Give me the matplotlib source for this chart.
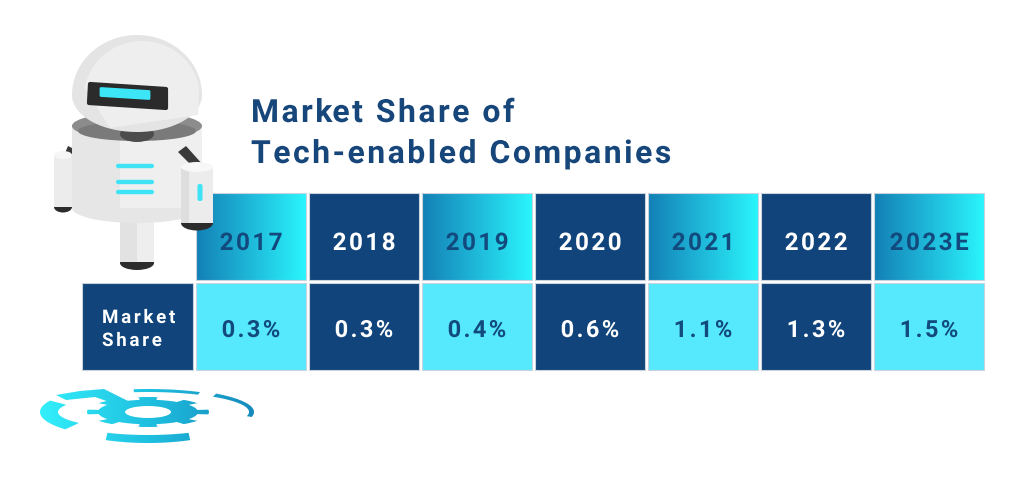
import numpy as np
import matplotlib
matplotlib.use("Agg")
import matplotlib.pyplot as plt
from matplotlib.patches import Rectangle, Ellipse, Polygon, PathPatch, FancyBboxPatch
from matplotlib.path import Path
from matplotlib.colors import LinearSegmentedColormap
from matplotlib.patheffects import AbstractPathEffect
from matplotlib.transforms import IdentityTransform

# ---------------- data ----------------
years = ['2017', '2018', '2019', '2020', '2021', '2022', '2023E']
share = [0.3, 0.3, 0.4, 0.6, 1.1, 1.3, 1.5]
row_label = 'Market\nShare'
title_lines = ['Market Share of', 'Tech-enabled Companies']

# ---------------- style ----------------
NAVY = '#10447a'
TITLE_C = '#16467a'
CYAN = '#56e9fd'
HDR_TXT = '#124a7d'
EDGE = '#c9d3de'
FONT = 'Roboto'


class LetterSpacing(AbstractPathEffect):
    """Adds tracking between glyphs of a single text object (text stays one string)."""

    def __init__(self, spacing, align='left', space_gap=6.0):
        super().__init__()
        self.sp = spacing
        self.align = align
        self.space_gap = space_gap

    def draw_path(self, renderer, gc, tpath, affine, rgbFace=None):
        verts = affine.transform(tpath.vertices)
        codes = tpath.codes
        if codes is None or len(verts) == 0:
            renderer.draw_path(gc, Path(verts, codes), IdentityTransform(), rgbFace)
            return
        starts = list(np.where(codes == Path.MOVETO)[0])
        if not starts or starts[0] != 0:
            starts = [0] + starts
        bounds = starts + [len(codes)]
        ext = []
        for i in range(len(starts)):
            s, e = bounds[i], bounds[i + 1]
            ext.append((verts[s:e, 0].min(), verts[s:e, 0].max(), s, e))
        order = sorted(range(len(ext)), key=lambda k: ext[k][0])
        offs = {}
        off = -self.sp
        cur_max = -np.inf
        for k in order:
            xmin, xmax = ext[k][0], ext[k][1]
            if xmin > cur_max - 0.3:
                off += self.sp
                if np.isfinite(cur_max) and xmin - cur_max > self.space_gap:
                    off += self.sp  # a word space gets tracking too
                cur_max = xmax
            else:
                cur_max = max(cur_max, xmax)
            offs[k] = off
        shift = -off / 2 if self.align == 'center' else 0.0
        newv = verts.copy()
        for k, (xmin, xmax, s, e) in enumerate(ext):
            newv[s:e, 0] += offs[k] + shift
        renderer.draw_path(gc, Path(newv, codes), IdentityTransform(), rgbFace)


fig = plt.figure(figsize=(10.24, 4.8), dpi=100)
ax = fig.add_axes([0, 0, 1, 1])
ax.set_axis_off()

hdr_cmap = LinearSegmentedColormap.from_list('hdr', ['#1380b5', '#1fb9da', '#2af5fc'])
gear_cmap = LinearSegmentedColormap.from_list('gear', ['#33f0fb', '#1fc0e0', '#1588bb'])
grad = np.linspace(0, 1, 256).reshape(1, -1)

# ---------------- table ----------------
x_start, pitch, cw = 196, 113, 110
hdr_top, hdr_bot = 193, 280
val_top, val_bot = 283, 370

for i, (yr, v) in enumerate(zip(years, share)):
    x0 = x_start + i * pitch
    xc = x0 + cw / 2
    if i % 2 == 0:
        ax.imshow(grad, cmap=hdr_cmap, aspect='auto', interpolation='bilinear',
                  extent=(x0, x0 + cw, hdr_bot, hdr_top), zorder=1)
        ax.add_patch(Rectangle((x0, hdr_top), cw, hdr_bot - hdr_top, fill=False,
                               edgecolor=EDGE, lw=0.8, zorder=2))
        ax.add_patch(Rectangle((x0, val_top), cw, val_bot - val_top, facecolor=CYAN,
                               edgecolor=EDGE, lw=0.8, zorder=2))
        tcol = HDR_TXT
    else:
        ax.add_patch(Rectangle((x0, hdr_top), cw, hdr_bot - hdr_top, facecolor=NAVY,
                               edgecolor=EDGE, lw=0.8, zorder=2))
        ax.add_patch(Rectangle((x0, val_top), cw, val_bot - val_top, facecolor=NAVY,
                               edgecolor=EDGE, lw=0.8, zorder=2))
        tcol = 'white'
    ax.text(xc, 250, yr, ha='center', va='baseline', family=FONT, weight='bold',
            fontsize=17.5, color=tcol, zorder=5,
            path_effects=[LetterSpacing(2.4, 'center')])
    ax.text(xc, 337, f'{v:.1f}%', ha='center', va='baseline', family=FONT, weight='bold',
            fontsize=17, color=tcol, zorder=5,
            path_effects=[LetterSpacing(2.4, 'center')])

# row label cell
ax.add_patch(Rectangle((82, val_top), 111, val_bot - val_top, facecolor=NAVY,
                       edgecolor=EDGE, lw=0.8, zorder=2))
lab = row_label.split('\n')
ax.text(102, 323, lab[0], ha='left', va='baseline', family=FONT, weight='bold',
        fontsize=13.5, color='white', zorder=5, path_effects=[LetterSpacing(2.7)])
ax.text(102, 346, lab[1], ha='left', va='baseline', family=FONT, weight='bold',
        fontsize=13.5, color='white', zorder=5, path_effects=[LetterSpacing(2.7)])

# ---------------- title ----------------
ax.text(251, 122, title_lines[0], ha='left', va='baseline', family=FONT, weight='bold',
        fontsize=23, color=TITLE_C, zorder=5, path_effects=[LetterSpacing(2.5)])
ax.text(251, 163, title_lines[1], ha='left', va='baseline', family=FONT, weight='bold',
        fontsize=23, color=TITLE_C, zorder=5, path_effects=[LetterSpacing(2.5)])

# ---------------- robot (decoration) ----------------
def rrect(x, y, w, h, r, fc, z):
    ax.add_patch(FancyBboxPatch((x, y), w, h, boxstyle=f'round,pad=0,rounding_size={r}',
                                facecolor=fc, edgecolor='none', zorder=z))

# leg
ax.add_patch(Ellipse((137, 263), 34, 14, facecolor='#2c2c2c', zorder=10))
ax.add_patch(Rectangle((120, 212), 34, 50, facecolor='#e2e2e2', zorder=11))
ax.add_patch(Rectangle((137, 212), 17, 50, facecolor='#eeeeee', zorder=11))
# left arm
ax.add_patch(Polygon([(62, 160), (68, 146), (76, 150), (72, 162)], facecolor='#3a3a3a', zorder=10))
ax.add_patch(Ellipse((63, 207), 18, 11, facecolor='#2c2c2c', zorder=10))
ax.add_patch(Rectangle((54, 155), 18, 52, facecolor='#ececec', zorder=11))
ax.add_patch(Ellipse((63, 155), 18, 8, facecolor='#f6f6f6', zorder=12))
# body
ax.add_patch(Ellipse((137, 208), 130, 30, facecolor='#e6e6e6', zorder=13))
ax.add_patch(Rectangle((72, 125), 130, 83, facecolor='#e6e6e6', zorder=13))
ax.add_patch(Rectangle((120, 125), 82, 83, facecolor='#efefef', zorder=13))
ax.add_patch(Ellipse((137, 126), 130, 28, facecolor='#8c8c8c', zorder=14))
ax.add_patch(Ellipse((137, 131), 118, 20, facecolor='#7a7a7a', zorder=14))
ax.add_patch(Ellipse((137, 134), 34, 16, facecolor='#4c4c4c', zorder=15))
# chest stripes
for yy, w in [(166, 38), (182, 38), (192, 38)]:
    rrect(116, yy - 2.2, w, 4.4, 2.2, '#3ee4f6', 16)
# right arm
ax.add_patch(Polygon([(178, 152), (186, 146), (204, 166), (196, 170)], facecolor='#3a3a3a', zorder=15))
ax.add_patch(Ellipse((197, 223), 32, 15, facecolor='#2c2c2c', zorder=16))
ax.add_patch(Rectangle((181, 167), 32, 56, facecolor='#ececec', zorder=17))
ax.add_patch(Rectangle((181, 167), 8, 56, facecolor='#dedede', zorder=17))
ax.add_patch(Ellipse((197, 167), 32, 10, facecolor='#f7f7f7', zorder=18))
rrect(197.5, 184, 5, 17, 2, '#3ee4f6', 19)
# head (dome)
t = np.linspace(np.pi, 2 * np.pi, 80)
top = np.column_stack([137 + 65 * np.cos(t), 95 + 60 * np.sin(t)])
tb = np.linspace(0, np.pi, 80)
bot = np.column_stack([137 + 65 * np.cos(tb), 95 + 37 * np.sin(tb)])
ax.add_patch(Polygon(np.vstack([top, bot]), closed=True, facecolor='#e4e4e4',
                     edgecolor='none', zorder=20))
t2 = np.linspace(np.pi * 1.05, np.pi * 1.95, 60)
hl = np.column_stack([142 + 58 * np.cos(t2), 97 + 56 * np.sin(t2)])
ax.add_patch(Polygon(np.vstack([hl, [[198, 115], [110, 128]]]), closed=True,
                     facecolor='#eeeeee', edgecolor='none', zorder=21))
# visor (slightly tilted)
ax.add_patch(Polygon([(90, 84), (166, 89), (166, 108), (89, 103)], closed=True,
                     facecolor='#2b2b2b', edgecolor='#2b2b2b', lw=3, joinstyle='round', zorder=22))
ax.add_patch(Polygon([(101, 88.5), (149, 91.5), (149, 98.5), (101, 95.5)], closed=True,
                     facecolor='#3ce6f7', edgecolor='#3ce6f7', lw=2, joinstyle='round', zorder=23))

# ---------------- gear (decoration) ----------------
gcx, gcy = 148, 412

def arc_piece(a_o, b_o, a_i, b_i, t0, t1, n=60):
    tt = np.radians(np.linspace(t0, t1, n))
    outer = np.column_stack([gcx + a_o * np.cos(tt), gcy + b_o * np.sin(tt)])
    inner = np.column_stack([gcx + a_i * np.cos(tt[::-1]), gcy + b_i * np.sin(tt[::-1])])
    return np.vstack([outer, inner])

pieces = [
    arc_piece(108, 27, 90, 17, 140, 205),       # left thick crescent
    arc_piece(100, 31, 96, 23, 65, 115),         # bottom arc
    arc_piece(104, 23, 100, 20, 262, 300),       # top right thin
    arc_piece(106, 24, 101, 20, 310, 372),       # right thin
    np.array([[56, 395], [80, 391], [104, 389], [134, 404], [121, 406], [95, 397], [66, 400]]),
]
ang = np.radians(np.linspace(0, 360, 721))
nteeth = 8
r = np.where(np.cos(nteeth * ang) > 0.25, 1.0, 0.82)
pieces.append(np.column_stack([gcx + 61 * r * np.cos(ang), gcy + 15 * r * np.sin(ang)]))

for pc in pieces:
    pp = PathPatch(Path(np.vstack([pc, pc[:1]])), transform=ax.transData,
                   facecolor='none', edgecolor='none')
    im = ax.imshow(grad, cmap=gear_cmap, aspect='auto', interpolation='bilinear',
                   extent=(38, 258, 446, 386), zorder=6)
    im.set_clip_path(pp)

ax.add_patch(Ellipse((gcx, gcy), 46, 12, facecolor='white', edgecolor='none', zorder=7))

ax.set_xlim(0, 1024)
ax.set_ylim(480, 0)
fig.savefig('out.png', dpi=100, facecolor='white')
